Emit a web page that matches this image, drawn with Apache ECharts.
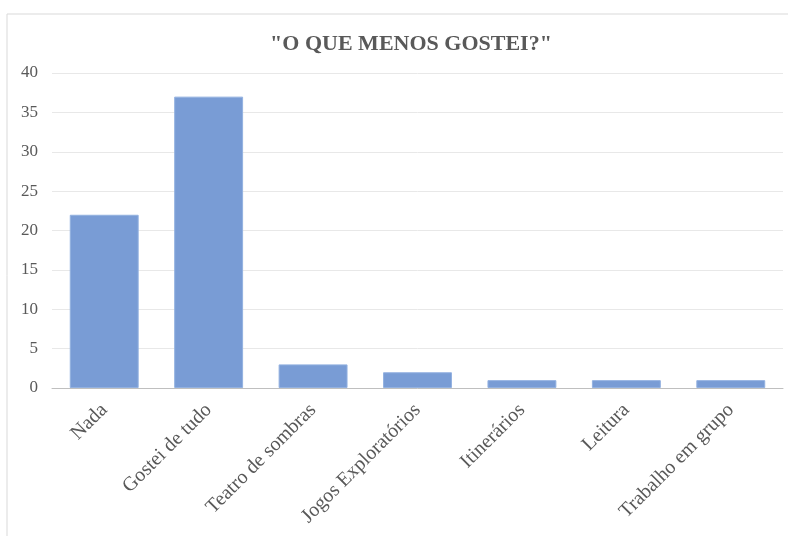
<!DOCTYPE html>
<html><head><meta charset="utf-8">
<script src="https://cdn.jsdelivr.net/npm/echarts@6/dist/echarts.min.js"></script>
<style>html,body{margin:0;padding:0;background:#fff}#c{width:788px;height:536px}</style>
</head><body><div id="c"></div>
<script>
const titleText = '"O QUE MENOS GOSTEI?"';
const categories = ['Nada','Gostei de tudo','Teatro de sombras','Jogos Exploratórios','Itinerários','Leitura','Trabalho em grupo'];
const values = [22, 37, 3, 2, 1, 1, 1];
const yTicks = {min: 0, max: 40, interval: 5};

const chart = echarts.init(document.getElementById('c'));
chart.setOption({
  backgroundColor: '#fff',
  graphic: [{type:'rect', shape:{x:7, y:14, width:800, height:540}, style:{fill:'none', stroke:'#d9d9d9', lineWidth:1}, silent:true}],
  title: {text: titleText, left: 406, textAlign: 'center', top: 28,
    textStyle: {fontFamily: 'Liberation Serif', fontWeight: 'bold', fontSize: 22, color: '#595959'}},
  grid: {left: 52, right: 5, top: 73, bottom: 148},
  xAxis: {type: 'category', data: categories,
    axisLine: {lineStyle: {color: '#bfbfbf'}}, axisTick: {show: false},
    axisLabel: {rotate: 45, interval: 0, margin: 19, color: '#595959', fontFamily: 'Liberation Serif', fontSize: 20}},
  yAxis: {type: 'value', min: yTicks.min, max: yTicks.max, interval: yTicks.interval,
    axisLine: {show: false}, axisTick: {show: false},
    splitLine: {lineStyle: {color: '#e8e8e8'}},
    axisLabel: {margin: 14, color: '#595959', fontFamily: 'Liberation Serif', fontSize: 17}},
  series: [{type: 'bar', data: values, barWidth: '66%',
    itemStyle: {color: '#799cd5', borderColor: '#93b1e0', borderWidth: 1}}]
});
</script></body></html>
